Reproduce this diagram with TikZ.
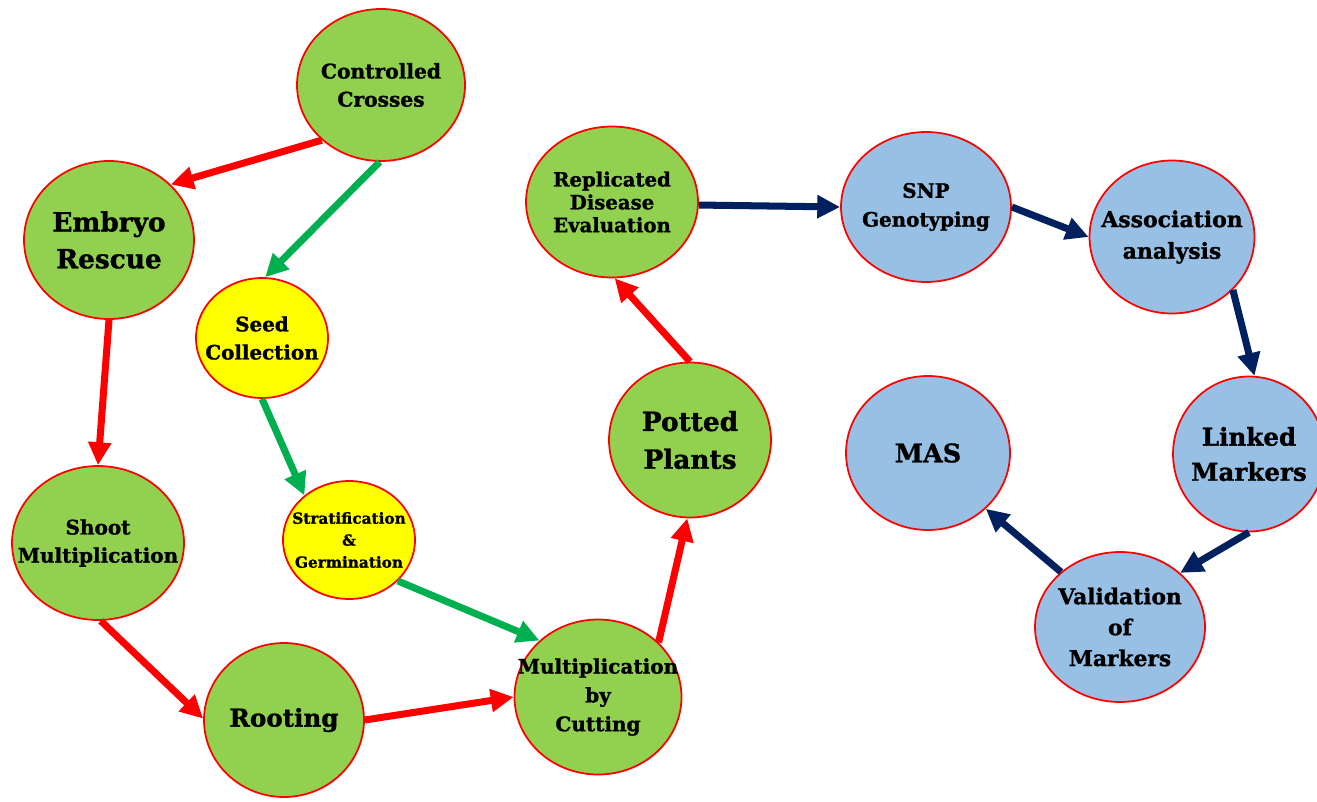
\documentclass[tikz,border=0pt]{standalone}
\usepackage{fontspec}
\setmainfont{DejaVu Serif}[BoldFeatures={FakeBold=1.2}]
\usetikzlibrary{shapes.geometric,arrows.meta}
\definecolor{lgreen}{HTML}{92D050}
\definecolor{lyellow}{HTML}{FFFF00}
\definecolor{lblue}{HTML}{97C0E4}
\definecolor{agreen}{HTML}{00B050}
\definecolor{anavy}{HTML}{002060}
\begin{document}
\begin{tikzpicture}[x=0.02cm,y=-0.02cm,
  bub/.style={ellipse,draw=red,line width=1pt,inner sep=0pt},
  gbub/.style={bub,fill=lgreen},
  ybub/.style={bub,fill=lyellow},
  bbub/.style={bub,fill=lblue},
  sz/.style n args={2}{minimum width=#1,minimum height=#2},
  txt/.style n args={3}{label={[align=center,text=black,inner sep=0pt,font=\fontsize{#1}{#2}\selectfont\bfseries]center:{#3}}},
  arr/.style={line width=4pt,-{Triangle[length=13pt,width=12.5pt]}},
  rarr/.style={arr,draw=red},
  garr/.style={arr,draw=agreen},
  narr/.style={arr,draw=anavy}]
\useasboundingbox (0,0) rectangle (1317,801);
\node[gbub,sz={3.36cm}{3.04cm},txt={11.5pt}{16pt}{Controlled\\Crosses}] (cc) at (381,85) {};
\node[gbub,sz={3.4cm}{3.16cm},txt={15pt}{21pt}{Embryo\\Rescue}] (er) at (109,240) {};
\node[ybub,sz={2.64cm}{2.4cm},txt={11.3pt}{16pt}{Seed\\Collection}] (sc) at (262,338) {};
\node[ybub,sz={2.64cm}{2.36cm},txt={8.7pt}{12.5pt}{Stratification\\\&\\Germination}] (sg) at (349,540) {};
\node[gbub,sz={3.44cm}{3.08cm},txt={11.4pt}{16pt}{Shoot\\Multiplication}] (sm) at (98,543) {};
\node[gbub,sz={3.2cm}{3.08cm},txt={14pt}{20pt}{Rooting}] (ro) at (284,720) {};
\node[gbub,sz={3.34cm}{3.1cm},txt={11.4pt}{16.4pt}{Multiplication\\by\\Cutting}] (mc) at (598,697) {};
\node[gbub,sz={3.24cm}{3.1cm},txt={15pt}{21.5pt}{Potted\\Plants}] (pp) at (690,440) {};
\node[gbub,sz={3.44cm}{3.02cm},txt={11.2pt}{13pt}{Replicated\\Disease\\Evaluation}] (rd) at (612,202) {};
\node[bbub,sz={3.4cm}{3.0cm},txt={11.3pt}{16.4pt}{SNP\\Genotyping}] (snp) at (926,207) {};
\node[bbub,sz={3.3cm}{3.06cm},txt={12.5pt}{18pt}{Association\\analysis}] (aa) at (1172,237) {};
\node[bbub,sz={3.04cm}{3.1cm},txt={14pt}{20pt}{Linked\\Markers}] (lm) at (1249,454) {};
\node[bbub,sz={3.28cm}{3.08cm},txt={14.5pt}{20pt}{MAS}] (mas) at (928,453) {};
\node[bbub,sz={3.4cm}{3.0cm},txt={12.4pt}{17.6pt}{Validation\\of\\Markers}] (vm) at (1120,627) {};
\draw[rarr] (cc.223) -- (er.42);
\draw[garr] (cc.269) -- (sc.87);
\draw[rarr] (er.270) -- (sm.90);
\draw[garr] (sc.270) -- (sg.135);
\draw[garr] (sg.320) -- (mc.136);
\draw[rarr] (sm.272) -- (ro.179);
\draw[rarr] (ro.0) -- (mc.180);
\draw[rarr] (mc.42) -- (pp.268);
\draw[rarr] (pp.90) -- (rd.272);
\draw[narr] (rd.358) -- (snp.180);
\draw[narr] (snp.0) -- (aa.180);
\draw[narr] (aa.319) -- (lm.86);
\draw[narr] (lm.270) -- (vm.42);
\draw[narr] (vm.137) -- (mas.316);
\end{tikzpicture}
\end{document}
